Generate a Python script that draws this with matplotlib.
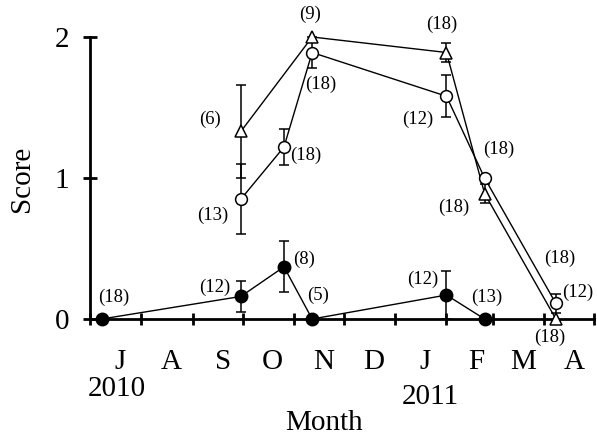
import matplotlib
matplotlib.use('Agg')
import matplotlib.pyplot as plt
import matplotlib.dates as mdates
import numpy as np
import pandas as pd

plt.rcParams['font.family'] = ['Liberation Serif', 'DejaVu Serif']

# ---------------- data ----------------
filled_dates = pd.to_datetime(['2010-07-08', '2010-09-30', '2010-10-26', '2010-11-12', '2011-02-01', '2011-02-24'])
filled_vals = np.array([0.0, 0.16, 0.37, 0.0, 0.17, 0.0])
filled_err = np.array([0.0, 0.11, 0.18, 0.0, 0.17, 0.0])
filled_n = ['(18)', '(12)', '(8)', '(5)', '(12)', '(13)']

open_dates = pd.to_datetime(['2010-09-30', '2010-10-26', '2010-11-12', '2011-02-01', '2011-02-24', '2011-04-08'])
open_vals = np.array([0.85, 1.22, 1.89, 1.58, 1.00, 0.11])
open_err = np.array([0.25, 0.125, 0.11, 0.15, 0.0, 0.07])
open_n = ['(13)', '(18)', '(18)', '(12)', '(18)', '(12)']

tri_dates = pd.to_datetime(['2010-09-30', '2010-11-12', '2011-02-01', '2011-02-24', '2011-04-08'])
tri_vals = np.array([1.33, 2.0, 1.89, 0.89, 0.0])
tri_err = np.array([0.33, 0.0, 0.07, 0.07, 0.0])
tri_n = ['(6)', '(9)', '(18)', '(18)', '(18)']

extra_label_date = pd.to_datetime(['2011-04-08'])
extra_label_val = [0.0]
extra_label_n = ['(18)']

month_labels = ['J', 'A', 'S', 'O', 'N', 'D', 'J', 'F', 'M', 'A']
years = ['2010', '2011']
year_dates = pd.to_datetime(['2010-07-17', '2011-01-22'])
yticks = [0, 1, 2]

# label offsets (pixels, x right, y up)
filled_off = [(12, 22), (-26, 9), (20, 7), (6, 24), (-24, 16), (2, 22)]
open_off = [(-28, -16), (22, -8), (9, -32), (-29, -23), (14, 29), (22, 11)]
tri_off = [(-31, 12), (-2, 23), (-5, 28), (-31, -14), (-6, -18)]
extra_off = [(4, 61)]
year_off = [(0, -70), (0, -78)]

# ---------------- figure ----------------
fig = plt.figure(figsize=(5.97, 4.36), dpi=100)
ax = fig.add_axes([90 / 597, 1 - 319 / 436, (594 - 90) / 597, (319 - 37) / 436])

ekw = dict(fmt='none', ecolor='black', elinewidth=1.1, capsize=3.6, capthick=1.1, zorder=2, clip_on=False)
for d, v, e in [(filled_dates, filled_vals, filled_err),
                (open_dates, open_vals, open_err),
                (tri_dates, tri_vals, tri_err)]:
    m = e > 0
    ax.errorbar(d[m], v[m], yerr=e[m], **ekw)

ax.plot(filled_dates, filled_vals, '-', color='black', lw=1.0, zorder=3, clip_on=False)
ax.plot(open_dates, open_vals, '-', color='black', lw=1.0, zorder=3, clip_on=False)
ax.plot(tri_dates, tri_vals, '-', color='black', lw=1.0, zorder=3, clip_on=False)

ax.plot(filled_dates, filled_vals, 'o', ms=9, mfc='black', mec='black', lw=0, zorder=5, clip_on=False)
ax.plot(open_dates, open_vals, 'o', ms=8.5, mfc='white', mec='black', mew=1.1, lw=0, zorder=5, clip_on=False)
ax.plot(tri_dates, tri_vals, '^', ms=8.7, mfc='white', mec='black', mew=1.1, lw=0, zorder=6, clip_on=False)

def label(dates, vals, texts, offs):
    for d, v, t, o in zip(dates, vals, texts, offs):
        ax.annotate(t, xy=(d, v), xytext=o, textcoords='offset pixels',
                    ha='center', va='center', fontsize=13.5, annotation_clip=False)

label(filled_dates, filled_vals, filled_n, filled_off)
label(open_dates, open_vals, open_n, open_off)
label(tri_dates, tri_vals, tri_n, tri_off)
label(extra_label_date, extra_label_val, extra_label_n, extra_off)

for d, t, o in zip(year_dates, years, year_off):
    ax.annotate(t, xy=(d, 0), xytext=o, textcoords='offset pixels',
                ha='center', va='center', fontsize=21, annotation_clip=False)

# axes
month_starts = pd.date_range('2010-07-01', '2011-05-01', freq='MS')
label_pos = month_starts[:-1] + pd.Timedelta(days=18)
ax.set_xlim(month_starts[0], month_starts[-1])
ax.set_ylim(0, 2)
ax.set_xticks(month_starts)
ax.set_xticklabels([])
ax.set_xticks(label_pos, minor=True)
ax.set_xticklabels(month_labels, minor=True)
ax.set_yticks(yticks)
ax.set_yticklabels([str(v) for v in yticks])

for s in ['top', 'right']:
    ax.spines[s].set_visible(False)
for s in ['left', 'bottom']:
    ax.spines[s].set_linewidth(2.0)

ax.tick_params(axis='x', which='major', direction='inout', length=9, width=2.0)
ax.tick_params(axis='x', which='minor', length=0, labelsize=21, pad=21.5)
ax.tick_params(axis='y', which='major', direction='inout', length=9.5, width=2.0, labelsize=21, pad=10)

fig.text(324.5 / 597, 1 - 430 / 436, 'Month', ha='center', va='baseline', fontsize=21)
fig.text(22 / 597, 1 - 179 / 436, 'Score', ha='center', va='center', rotation=90, fontsize=21)

fig.savefig('out.png', dpi=100)
